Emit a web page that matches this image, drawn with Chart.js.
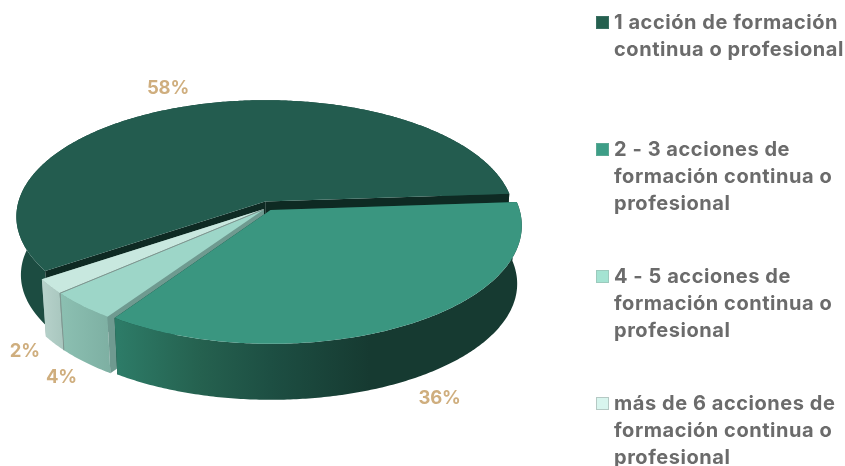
<!DOCTYPE html>
<html><head><meta charset="utf-8">
<style>html,body{margin:0;padding:0;background:#fff;overflow:hidden}#w{position:relative;width:845px;height:466px}#w canvas{display:block}</style>
<script src="https://cdn.jsdelivr.net/npm/chart.js@4/dist/chart.umd.js"></script>
</head><body><div id="w"><canvas id="c"></canvas></div>
<script>
const categories = [
  ["1 acción de formación","continua o profesional"],
  ["2 - 3 acciones de","formación continua o","profesional"],
  ["4 - 5 acciones de","formación continua o","profesional"],
  ["más de 6 acciones de","formación continua o","profesional"]
];
const shares = [58.4, 35.6, 4, 2];
const valueLabels = ["58%", "36%", "4%", "2%"];

const sliceOffsets = [10, 10, 4, 4];
const sliceNudges = [[3.5,0],[0.5,0],[1.5,2],[1.5,2]];
const topColors = ["#235c4f", "#3a9680", "#9dd6c8", "#c8e8df"];
const swatches = ["#25604f", "#3d9e87", "#a4e3d2", "#d8f5ee"];
const swatchEdges = ["#3a6f62", "#5aa893", "#9ccabd", "#b5c9c4"];
const faceColors = ["#0e2a23", "#123d33", "#6f9a90", "#8fa8a2"];
const seamColors = [null, null, "#7f9690", null];
const wallStops = [
  [[17,"#1c4c41"],[60,"#1c4c41"]],
  [[119,"#2d7b67"],[200,"#25614f"],[270,"#1d4f43"],[370,"#163a31"],[521,"#163a31"]],
  [[60,"#8cc0b2"],[112,"#7dafa2"]],
  [[42,"#b7d2cb"],[62,"#a9c7bf"]]
];
const labelNudges = [[-22,-18],[29,73],[-19,72],[-24,66]];

const PERSPECTIVE = 0.128, SQUASH = 115.5/248, DEPTH = 58.5, SHRINK = 0.982;
const FONT = "700 20px Inter", SPACING = "0.55px";
const LABEL_FONT = "700 18.5px Inter", LABEL_SPACING = "-0.2px";

function project(chart, arc, px, py, low) {
  const R = arc.outerRadius, cx = chart.chartArea.left + chart.chartArea.width/2, cy = chart.chartArea.top + chart.chartArea.height/2;
  const s = 1 / (1 - PERSPECTIVE * py / R);
  let X = px * s, Y = py * SQUASH * s;
  if (low) { X *= SHRINK; Y = Y * SHRINK + DEPTH; }
  return [cx + X, cy + Y];
}
function trace(ctx, pts) {
  ctx.beginPath();
  pts.forEach((p, i) => i ? ctx.lineTo(p[0], p[1]) : ctx.moveTo(p[0], p[1]));
  ctx.closePath();
}
const pie3d = {
  id: "pie3d",
  beforeDatasetsDraw(chart) {
    const ctx = chart.ctx, arcs = chart.getDatasetMeta(0).data;
    const order = [0, 3, 2, 1];
    ctx.save();
    order.forEach(i => {
      const a = arcs[i], R = a.outerRadius, mid = (a.startAngle + a.endAngle) / 2, off = a.options.offset;
      const ox = Math.cos(mid) * off, oy = Math.sin(mid) * off;
      const rim = [], n = Math.max(4, Math.ceil((a.endAngle - a.startAngle) * 90));
      for (let k = 0; k <= n; k++) {
        const t = a.startAngle + (a.endAngle - a.startAngle) * k / n;
        rim.push([ox + Math.cos(t) * R, oy + Math.sin(t) * R]);
      }
      const P = (p, low) => {
        const q = project(chart, a, p[0], p[1], low);
        return [q[0] + sliceNudges[i][0], q[1] + sliceNudges[i][1]];
      };
      const apex = [ox, oy];
      const face = e => {
        ctx.fillStyle = faceColors[i];
        trace(ctx, [P(apex), P(e), P(e, true), P(apex, true)]);
        ctx.fill();
      };
      const startFront = Math.sin(a.startAngle - Math.PI / 2) > 0;
      const endFront = Math.sin(a.endAngle + Math.PI / 2) > 0;
      if (!startFront) face(rim[0]);
      if (!endFront) face(rim[n]);
      const x0 = wallStops[i][0][0], x1 = wallStops[i][wallStops[i].length-1][0];
      const grad = ctx.createLinearGradient(x0, 0, x1, 0);
      wallStops[i].forEach(s => grad.addColorStop((s[0]-x0)/(x1-x0), s[1]));
      ctx.fillStyle = grad;
      trace(ctx, rim.map(p => P(p)).concat(rim.slice().reverse().map(p => P(p, true))));
      ctx.fill();
      if (startFront) face(rim[0]);
      if (endFront) face(rim[n]);
      ctx.fillStyle = topColors[i];
      trace(ctx, [P(apex)].concat(rim.map(p => P(p))));
      ctx.fill();
      if (seamColors[i]) {
        const s = [P(apex), P(rim[n]), P(rim[n], true)];
        ctx.strokeStyle = seamColors[i]; ctx.lineWidth = 1;
        ctx.beginPath();
        ctx.moveTo(s[0][0], s[0][1]); ctx.lineTo(s[1][0], s[1][1]); ctx.lineTo(s[2][0], s[2][1]);
        ctx.stroke();
      }
    });
    ctx.restore();
    return false;
  },
  afterDraw(chart) {
    const ctx = chart.ctx, arcs = chart.getDatasetMeta(0).data;
    ctx.save();
    ctx.font = LABEL_FONT; ctx.letterSpacing = LABEL_SPACING; ctx.textBaseline = "alphabetic"; ctx.textAlign = "center";
    ctx.fillStyle = "#cfae7e";
    arcs.forEach((a, i) => {
      const mid = (a.startAngle + a.endAngle) / 2, R = a.outerRadius, off = a.options.offset;
      const p = project(chart, a, Math.cos(mid) * (R + off), Math.sin(mid) * (R + off));
      ctx.fillText(valueLabels[i], p[0] + labelNudges[i][0], p[1] + labelNudges[i][1] + 7);
    });
    ctx.font = FONT; ctx.letterSpacing = SPACING; ctx.textAlign = "left";
    chart.data.labels.forEach((lines, i) => {
      const base = 29 + 127 * i;
      ctx.fillStyle = swatches[i];
      ctx.fillRect(596, base - 13, 13, 13);
      ctx.strokeStyle = swatchEdges[i]; ctx.lineWidth = 1;
      ctx.strokeRect(596.5, base - 12.5, 12, 12);
      ctx.fillStyle = "#6b6b6b";
      lines.forEach((t, j) => ctx.fillText(t, 614, base + 27 * j));
    });
    ctx.restore();
  }
};
new Chart(document.getElementById("c"), {
  type: "pie",
  plugins: [pie3d],
  data: { labels: categories, datasets: [{ data: shares, backgroundColor: topColors, offset: sliceOffsets, borderWidth: 0, radius: 248 }] },
  options: {
    responsive: true, maintainAspectRatio: false, animation: false, rotation: -124.24,
    layout: { padding: { left: 0, top: 0, right: 315, bottom: 54 } },
    plugins: { legend: { display: false }, tooltip: { enabled: false } }
  }
});
</script>
</body></html>
